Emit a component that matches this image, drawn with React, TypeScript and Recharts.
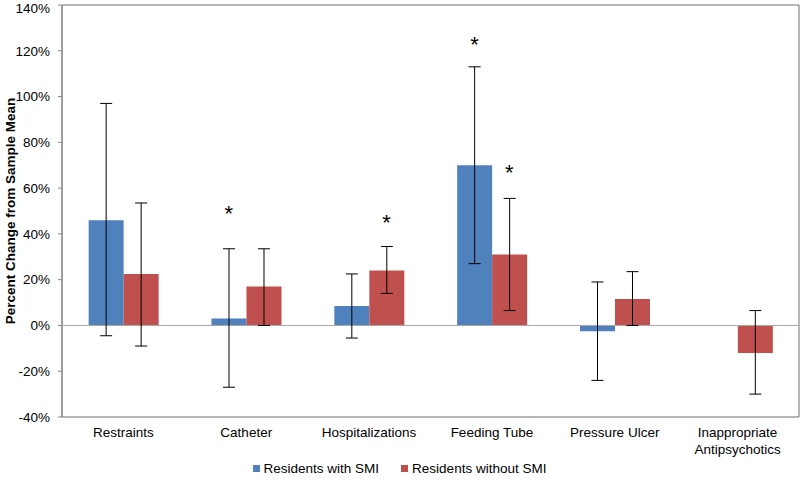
import { Bar, BarChart, ErrorBar, Label, Legend, ReferenceArea, ReferenceDot, ReferenceLine, XAxis, YAxis } from 'recharts';

const categories = ['Restraints', 'Catheter', 'Hospitalizations', 'Feeding Tube', 'Pressure Ulcer', 'Inappropriate Antipsychotics'];

// percent change from sample mean, with 95% CI bounds
const withSmi = [46, 3, 8.5, 70, -2.5, null];
const withSmiLow = [-4.5, -27, -5.5, 27, -24, null];
const withSmiHigh = [97, 33.5, 22.5, 113, 19, null];

const withoutSmi = [22.5, 17, 24, 31, 11.5, -12];
const withoutSmiLow = [-9, 0, 14, 6.5, 0, -30];
const withoutSmiHigh = [53.5, 33.5, 34.5, 55.5, 23.5, 6.5];

// where the significance asterisks sit (value units)
const starWith = [null, 49, null, 123, null, null];
const starWithout = [null, null, 45, 67, null, null];

const yTicks = [-40, -20, 0, 20, 40, 60, 80, 100, 120, 140];

const BLUE = '#4F81BD';
const RED = '#C0504D';
const FONT = '"Liberation Sans", Arial, sans-serif';

const errOf = (v: number | null, lo: number | null, hi: number | null) =>
  v == null || lo == null || hi == null ? null : [v - lo, hi - v];

const data = categories.map((name, i) => ({
  name,
  withSmi: withSmi[i],
  withoutSmi: withoutSmi[i],
  withSmiErr: errOf(withSmi[i], withSmiLow[i], withSmiHigh[i]),
  withoutSmiErr: errOf(withoutSmi[i], withoutSmiLow[i], withoutSmiHigh[i]),
}));

function CategoryTick({ x, y, payload }: any) {
  const lines = payload.value.length > 16 ? payload.value.split(' ') : [payload.value];
  return (
    <text x={x} y={y} textAnchor="middle" fontSize={13.5} fill="#000" fontFamily={FONT}>
      {lines.map((w: string, i: number) => (
        <tspan key={i} x={x} dy={i === 0 ? 12 : 17}>{w}</tspan>
      ))}
    </text>
  );
}

const star = (dx: number) => (props: any) => (
  <text x={props.cx + dx} y={props.cy + 8} textAnchor="middle" fontSize={22} fontFamily={FONT} fill="#000">*</text>
);

function LegendBox() {
  const item = (color: string, text: string) => (
    <span style={{ display: 'inline-flex', alignItems: 'center', margin: '0 11px' }}>
      <span style={{ width: 7, height: 7, background: color, display: 'inline-block', marginRight: 4 }} />
      {text}
    </span>
  );
  return (
    <div style={{ textAlign: 'center', fontFamily: FONT, fontSize: 13.5, color: '#000', height: 24, lineHeight: '24px' }}>
      {item(BLUE, 'Residents with SMI')}
      {item(RED, 'Residents without SMI')}
    </div>
  );
}

export default function App() {
  return (
    <div style={{ position: 'absolute', left: 0, top: 0, background: '#fff' }}>
      <BarChart
        width={800}
        height={480}
        data={data}
        margin={{ top: 5, right: 1, bottom: 0, left: 0 }}
        barCategoryGap="21.7%"
        barGap={0}
      >
        <XAxis dataKey="name" axisLine={false} tickLine={false} height={39} tick={<CategoryTick />} interval={0} />
        <YAxis
          domain={[-40, 140]}
          ticks={yTicks}
          width={62}
          tickFormatter={(v) => `${v}%`}
          tick={{ fontSize: 13.5, fill: '#000', fontFamily: FONT }}
          axisLine={{ stroke: '#868686' }}
          tickLine={{ stroke: '#868686' }}
          tickSize={4}
          tickMargin={8}
        >
          <Label
            value="Percent Change from Sample Mean"
            angle={-90}
            position="insideLeft"
            offset={10}
            style={{ textAnchor: 'middle', fontSize: 13.5, fontWeight: 'bold', fill: '#000', fontFamily: FONT }}
          />
        </YAxis>
        <ReferenceArea y1={-40} y2={140} stroke="#6e6e6e" fill="none" ifOverflow="visible" />
        <ReferenceLine y={0} stroke="#a6a6a6" />
        <Bar dataKey="withSmi" name="Residents with SMI" fill={BLUE} isAnimationActive={false}>
          <ErrorBar dataKey="withSmiErr" width={6} stroke="#000" strokeWidth={1} direction="y" />
        </Bar>
        <Bar dataKey="withoutSmi" name="Residents without SMI" fill={RED} isAnimationActive={false}>
          <ErrorBar dataKey="withoutSmiErr" width={6} stroke="#000" strokeWidth={1} direction="y" />
        </Bar>
        {categories.map((c, i) =>
          starWith[i] != null ? (
            <ReferenceDot key={`sw${i}`} x={c} y={starWith[i] as number} r={0} shape={star(-17.4)} />
          ) : null
        )}
        {categories.map((c, i) =>
          starWithout[i] != null ? (
            <ReferenceDot key={`so${i}`} x={c} y={starWithout[i] as number} r={0} shape={star(17.4)} />
          ) : null
        )}
        <Legend verticalAlign="bottom" content={<LegendBox />} />
      </BarChart>
    </div>
  );
}
